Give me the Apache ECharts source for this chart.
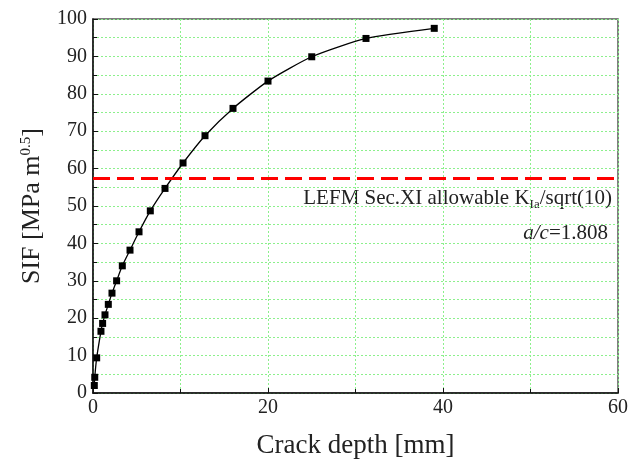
<!DOCTYPE html>
<html>
<head>
<meta charset="utf-8">
<script src="https://cdn.jsdelivr.net/npm/echarts@6/dist/echarts.min.js"></script>
<style>
  html, body { margin: 0; padding: 0; background: #fff; }
  #main { width: 631px; height: 466px; }
</style>
</head>
<body>
<div id="main"></div>
<script>
// crack depth [mm] and SIF [MPa m^0.5]
var depth = [0.15, 0.2, 0.42, 0.91, 1.1, 1.37, 1.75, 2.17, 2.7, 3.35, 4.23, 5.26, 6.55, 8.23, 10.29, 12.8, 16.0, 20.0, 25.0, 31.2, 39.0];
var sif = [2.0, 4.2, 9.4, 16.5, 18.6, 20.9, 23.7, 26.7, 30.0, 34.0, 38.2, 43.1, 48.7, 54.7, 61.5, 68.8, 76.1, 83.4, 89.9, 94.8, 97.5];
var allowable = [57.5];
var aspect = ['1.808'];
var xTicks = [0, 20, 40, 60];
var yTicks = [0, 10, 20, 30, 40, 50, 60, 70, 80, 90, 100];

var font = 'Liberation Serif';
var gridGreen = '#8cf08c';

var pts = [];
for (var i = 0; i < depth.length; i++) {
    pts.push([depth[i], sif[i]]);
}

var option = {
    animation: false,
    grid: {
        left: 93,
        right: 12,
        top: 19,
        bottom: 73,
        show: true,
        borderColor: '#555',
        borderWidth: 1.5
    },
    xAxis: {
        type: 'value',
        min: xTicks[0],
        max: xTicks[xTicks.length - 1],
        interval: 20,
        name: 'Crack depth [mm]',
        nameLocation: 'middle',
        nameGap: 39,
        nameTextStyle: { fontFamily: font, fontSize: 27, color: '#222' },
        axisLine: { lineStyle: { color: '#111', width: 1.5 } },
        axisTick: { inside: true, length: 5, lineStyle: { color: '#111' } },
        minorTick: { show: true, splitNumber: 2, length: 4, lineStyle: { color: '#111' } },
        axisLabel: { fontFamily: font, fontSize: 20, color: '#222', margin: 5 },
        splitLine: { show: true, lineStyle: { color: gridGreen, type: [2, 2], width: 1 } },
        minorSplitLine: { show: true, lineStyle: { color: gridGreen, type: [2, 2], width: 1 } }
    },
    yAxis: {
        type: 'value',
        min: yTicks[0],
        max: yTicks[yTicks.length - 1],
        interval: 10,
        name: 'SIF [MPa m{sup|0.5}]',
        nameLocation: 'middle',
        nameGap: 48,
        nameTextStyle: {
            fontFamily: font, fontSize: 26, color: '#222',
            rich: { sup: { fontFamily: font, fontSize: 15, color: '#222', verticalAlign: 'top' } }
        },
        axisLine: { lineStyle: { color: '#111', width: 1.5 } },
        axisTick: { inside: true, length: 5, lineStyle: { color: '#111' } },
        minorTick: { show: true, splitNumber: 2, length: 4, lineStyle: { color: '#111' } },
        axisLabel: { fontFamily: font, fontSize: 20, color: '#222', margin: 6 },
        splitLine: { show: true, lineStyle: { color: gridGreen, type: [2, 2], width: 1 } },
        minorSplitLine: { show: true, lineStyle: { color: gridGreen, type: [2, 2], width: 1 } }
    },
    series: [
        {
            type: 'line',
            data: pts,
            smooth: 0.2,
            symbol: 'rect',
            symbolSize: 7,
            itemStyle: { color: '#000' },
            lineStyle: { color: '#000', width: 1.3 },
            markLine: {
                silent: true,
                symbol: 'none',
                label: { show: false },
                lineStyle: { color: '#ff0000', width: 3, type: [17, 7] },
                data: [{ yAxis: allowable[0] }]
            }
        }
    ],
    graphic: [
        {
            type: 'text',
            right: 19,
            top: 188,
            style: {
                text: 'LEFM Sec.XI allowable K{sub|Ia}/sqrt(10)',
                fontFamily: font,
                fontSize: 21,
                fill: '#222',
                rich: { sub: { fontFamily: font, fontSize: 13, fill: '#222', padding: [12, 0, 0, 0] } }
            }
        },
        {
            type: 'text',
            right: 23,
            top: 223,
            style: {
                text: '{it|a/c}=' + aspect[0],
                fontFamily: font,
                fontSize: 21,
                fill: '#222',
                rich: { it: { fontFamily: font, fontSize: 21, fontStyle: 'italic', fill: '#222' } }
            }
        }
    ]
};

var myChart = echarts.init(document.getElementById('main'));
myChart.setOption(option);
</script>
</body>
</html>
